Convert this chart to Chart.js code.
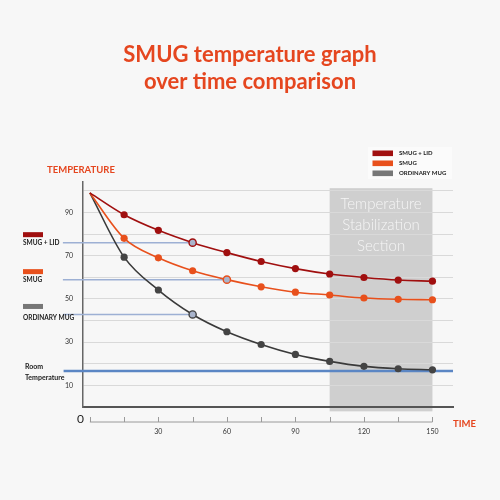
<!DOCTYPE html>
<html>
<head>
<meta charset="utf-8">
<script src="https://cdn.jsdelivr.net/npm/chart.js@4.4.1/dist/chart.umd.min.js"></script>
<style>
  html, body { margin: 0; padding: 0; background: #f7f7f7; }
  #wrap { width: 500px; height: 500px; }
</style>
</head>
<body>
<div id="wrap"><canvas id="mugChart" width="500" height="500"></canvas></div>
<script>
// Time (minutes) and temperature readings for each mug
const times = [0, 15, 30, 45, 60, 75, 90, 105, 120, 135, 150];
const smugLid = [99, 88.9, 81.7, 76.0, 71.4, 67.3, 64.0, 61.5, 59.9, 58.7, 58.2];
const smug = [99, 78.0, 69.0, 63.0, 58.9, 55.6, 53.1, 51.8, 50.4, 49.8, 49.6];
const ordinaryMug = [99, 69.3, 54.1, 42.8, 34.8, 28.9, 24.3, 21.1, 18.8, 17.7, 17.2];

const seriesNames = ['SMUG + LID', 'SMUG', 'ORDINARY MUG'];
const seriesColors = ['#a00f0f', '#e8501c', '#3a3a3a'];
const pointColors = ['#a00f0f', '#e8501c', '#444444'];
const boxColors = ['#a00f0f', '#e8501c', '#777777'];

const roomTemp = 16.6;
// guide lines on the left: which point each label points to (index into times)
const guideIndex = [3, 4, 3];
const stableRange = [105, 150];
const stableText = ['Temperature', 'Stabilization', 'Section'];

const yTicks = [0, 10, 20, 30, 40, 50, 60, 70, 80, 90, 100];
const xTicks = [0, 15, 30, 45, 60, 75, 90, 105, 120, 135, 150];

const titleLines = ['SMUG temperature graph', 'over time comparison'];
const accent = '#e5461f';

const toPoints = vals => times.map((t, i) => ({ x: t, y: vals[i] }));

const mugExtras = {
  id: 'mugExtras',
  beforeDraw(chart) {
    const { ctx, scales: { x, y } } = chart;
    const left = x.getPixelForValue(stableRange[0]);
    const right = x.getPixelForValue(stableRange[1]);
    const top = y.getPixelForValue(101.2);
    const bottom = y.getPixelForValue(-2);
    ctx.save();
    ctx.fillStyle = '#cfcfcf';
    ctx.fillRect(left, top, right - left, bottom - top);
    ctx.fillStyle = 'rgba(255,255,255,0.8)';
    ctx.font = '300 15px Lato';
    ctx.textAlign = 'center';
    ctx.textBaseline = 'middle';
    stableText.forEach((t, i) => ctx.fillText(t, (left + right) / 2, top + 16 + i * 21));
    ctx.restore();
  },
  beforeDatasetsDraw(chart) {
    const { ctx, scales: { x, y } } = chart;
    const all = [smugLid, smug, ordinaryMug];
    ctx.save();
    // guide lines from the left labels to a point on each curve
    ctx.strokeStyle = '#9db0d4';
    ctx.lineWidth = 1.5;
    guideIndex.forEach((idx, s) => {
      const py = y.getPixelForValue(all[s][idx]);
      ctx.beginPath();
      ctx.moveTo(x.getPixelForValue(-11.8), py);
      ctx.lineTo(x.getPixelForValue(times[idx]), py);
      ctx.stroke();
    });
    // room temperature
    const ry = y.getPixelForValue(roomTemp);
    ctx.strokeStyle = '#5b86c4';
    ctx.lineWidth = 2.5;
    ctx.beginPath();
    ctx.moveTo(x.getPixelForValue(-11.5), ry);
    ctx.lineTo(chart.chartArea.right, ry);
    ctx.stroke();
    ctx.restore();
  },
  afterDraw(chart) {
    const { ctx, scales: { x, y }, chartArea } = chart;
    const all = [smugLid, smug, ordinaryMug];
    ctx.save();
    ctx.textBaseline = 'middle';

    // left side labels
    ctx.textAlign = 'left';
    ctx.font = 'bold 6.5px Lato';
    guideIndex.forEach((idx, s) => {
      const py = y.getPixelForValue(all[s][idx]);
      ctx.fillStyle = boxColors[s];
      ctx.fillRect(23, py - 10.5, 20, 5);
      ctx.fillStyle = '#222';
      ctx.fillText(seriesNames[s], 23, py + (s === 2 ? 3 : 0.5));
    });
    const ry = y.getPixelForValue(roomTemp);
    ctx.font = 'bold 7px Lato';
    ctx.fillText('Room', 25, ry - 4);
    ctx.fillText('Temperature', 25, ry + 6.5);

    // legend top right
    ctx.fillStyle = '#fbfbfb';
    ctx.fillRect(368, 147, 84, 32);
    seriesNames.forEach((name, s) => {
      const ly = 153.3 + s * 10;
      ctx.fillStyle = boxColors[s];
      ctx.fillRect(372.5, ly - 2.8, 20.5, 5.6);
      ctx.fillStyle = '#222';
      ctx.font = 'bold 6px Lato';
      ctx.fillText(name, 399, ly);
    });

    // axis captions
    ctx.fillStyle = accent;
    ctx.font = 'bold 9.5px Lato';
    ctx.fillText('TEMPERATURE', 47, 169.5);
    ctx.fillText('TIME', 453, 423.5);

    // ruler under the axis
    const rulerY = chartArea.bottom + 15;
    ctx.strokeStyle = '#9a9a9a';
    ctx.lineWidth = 1;
    ctx.beginPath();
    ctx.moveTo(x.getPixelForValue(xTicks[0]), rulerY);
    ctx.lineTo(x.getPixelForValue(xTicks[xTicks.length - 1]), rulerY);
    xTicks.forEach(v => {
      const px = Math.round(x.getPixelForValue(v)) + 0.5;
      ctx.moveTo(px, rulerY);
      ctx.lineTo(px, rulerY - 5);
    });
    ctx.stroke();

    ctx.fillStyle = '#222';
    ctx.font = '12px Lato';
    ctx.textAlign = 'center';
    ctx.fillText('0', 80.5, 419.5);
    ctx.restore();
  }
};

new Chart(document.getElementById('mugChart'), {
  type: 'line',
  data: {
    datasets: [
      { label: seriesNames[0], data: toPoints(smugLid) },
      { label: seriesNames[1], data: toPoints(smug) },
      { label: seriesNames[2], data: toPoints(ordinaryMug) }
    ].map((d, i) => ({
      ...d,
      borderColor: seriesColors[i],
      pointBorderColor: pointColors[i],
      // the points the left guide lines reach get a pale centre
      pointBackgroundColor: c => c.dataIndex === guideIndex[i] ? '#a9b4cc' : pointColors[i],
      pointBorderWidth: c => c.dataIndex === guideIndex[i] ? 1.4 : 0,
      borderWidth: 1.6,
      pointRadius: c => c.dataIndex === 0 ? 0 : 3.6,
      cubicInterpolationMode: 'monotone',
      fill: false
    }))
  },
  options: {
    responsive: false,
    animation: false,
    layout: { padding: { top: 0, left: 47, right: 47, bottom: 0 } },
    plugins: {
      legend: { display: false },
      tooltip: { enabled: false },
      title: {
        display: true,
        text: titleLines,
        color: accent,
        font: { family: 'Lato', size: 22, weight: 'bold', lineHeight: 1.23 },
        padding: { top: 41, bottom: 87 }
      }
    },
    scales: {
      x: {
        type: 'linear',
        min: -3,
        max: 159,
        afterBuildTicks: s => { s.ticks = xTicks.map(v => ({ value: v })); },
        afterFit: s => { s.height = 93; },
        grid: { display: false, drawTicks: false },
        border: { display: true, color: '#555', width: 2 },
        ticks: {
          padding: 21,
          maxRotation: 0,
          autoSkip: false,
          color: '#333',
          font: { family: 'Lato', size: 7 },
          callback: v => (v > 0 && v % 30 === 0) ? String(v) : ''
        }
      },
      y: {
        min: 0,
        max: 104,
        afterBuildTicks: s => { s.ticks = yTicks.map(v => ({ value: v })); },
        afterFit: s => { s.width = 36; },
        grid: {
          drawTicks: false,
          color: c => c.tick && c.tick.value === 0 ? 'rgba(0,0,0,0)' : '#d9d9d9',
          lineWidth: 1
        },
        border: { display: true, color: '#666', width: 1.5 },
        ticks: {
          padding: 10,
          autoSkip: false,
          color: '#333',
          font: { family: 'Lato', size: 7 },
          callback: v => (v % 20 === 10) ? String(v) : ''
        }
      }
    }
  },
  plugins: [mugExtras]
});
</script>
</body>
</html>
